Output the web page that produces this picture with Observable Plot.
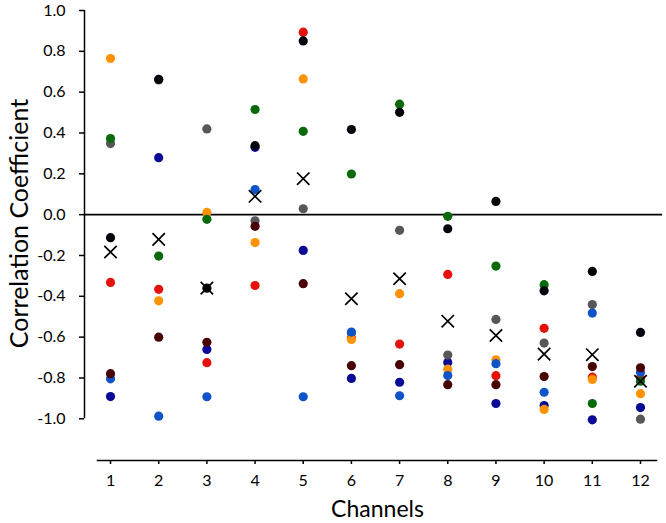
<!DOCTYPE html>
<html>
<head>
<meta charset="utf-8">
<script src="https://cdn.jsdelivr.net/npm/d3@7"></script>
<script src="https://cdn.jsdelivr.net/npm/@observablehq/plot@0.6"></script>
<style>
  html, body { margin: 0; padding: 0; background: #fff; }
  #chart svg { display: block; }
</style>
</head>
<body>
<div id="chart"></div>
<script>
const channels = [1, 2, 3, 4, 5, 6, 7, 8, 9, 10, 11, 12];
const yTicks = [-1.0, -0.8, -0.6, -0.4, -0.2, 0.0, 0.2, 0.4, 0.6, 0.8, 1.0];

// Series (listed in drawing order, bottom to top)
const red    = [-0.332, -0.366, -0.725, -0.347, 0.894, -0.604, -0.634, -0.293, -0.789, -0.557, -0.796, -0.800];
const navy   = [-0.891, 0.279, -0.660, 0.330, -0.175, -0.802, -0.821, -0.724, -0.925, -0.935, -1.005, -0.945];
const gray   = [0.348, 0.660, 0.420, -0.030, 0.029, -0.580, -0.077, -0.688, -0.513, -0.629, -0.440, -1.002];
const orange = [0.765, -0.422, 0.011, -0.137, 0.665, -0.611, -0.387, -0.757, -0.711, -0.954, -0.807, -0.877];
const green  = [0.373, -0.203, -0.023, 0.515, 0.408, 0.199, 0.541, -0.008, -0.252, -0.343, -0.925, -0.816];
const blue   = [-0.804, -0.987, -0.892, 0.123, -0.892, -0.575, -0.887, -0.788, -0.730, -0.870, -0.482, -0.772];
const maroon = [-0.779, -0.600, -0.625, -0.057, -0.338, -0.740, -0.735, -0.833, -0.833, -0.793, -0.744, -0.750];
const black  = [-0.113, 0.663, -0.360, 0.338, 0.851, 0.417, 0.501, -0.069, 0.065, -0.373, -0.278, -0.577];
const mean   = [-0.183, -0.121, -0.360, 0.090, 0.176, -0.412, -0.314, -0.522, -0.592, -0.683, -0.686, -0.816];

const seriesNames  = ["red", "navy", "gray", "orange", "green", "blue", "maroon", "black"];
const seriesValues = [red, navy, gray, orange, green, blue, maroon, black];
const seriesColors = ["#e5120b", "#0a0a96", "#575757", "#ff9200", "#0a690a", "#0f54c6", "#480404", "#04040c"];

const points = [];
seriesNames.forEach((name, i) => {
  seriesValues[i].forEach((v, j) => points.push({series: name, color: seriesColors[i], channel: channels[j], value: v}));
});
const means = mean.map((v, j) => ({channel: channels[j], value: v}));

const xDomain = [0.46, 12.457];
const yDomain = [-1, 1];

const chart = Plot.plot({
  width: 666,
  height: 523,
  marginTop: 10,
  marginLeft: 84,
  marginRight: 4,
  marginBottom: 63,
  style: {fontFamily: "Lato, sans-serif", color: "#000", background: "#fff"},
  x: {type: "linear", domain: xDomain, axis: null},
  y: {domain: yDomain, range: [418.3, 10], axis: null},
  color: {type: "identity"},
  marks: [
    Plot.ruleX([xDomain[0]], {y1: yDomain[0], y2: yDomain[1], stroke: "#000", strokeWidth: 1.5}),
    Plot.axisY(yTicks, {anchor: "left", tickSize: 5, tickPadding: 14, strokeWidth: 1.5,
      tickFormat: d => d.toFixed(1), fontSize: 16, label: null}),
    Plot.ruleY([0], {stroke: "#000", strokeWidth: 1.6}),
    Plot.frame({anchor: "bottom", insetLeft: 13, insetRight: 6, stroke: "#000", strokeWidth: 1.5}),
    Plot.axisX(channels, {anchor: "bottom", tickSize: 4, tickPadding: 10, strokeWidth: 1.5,
      tickFormat: d => String(d), fontSize: 16, label: null}),
    Plot.dot(points, {x: "channel", y: "value", fill: "color", r: 4.6}),
    Plot.dot(means, {x: "channel", y: "value", symbol: "times", r: 5.7, stroke: "#000", strokeWidth: 1.7}),
    Plot.text(["Correlation Coefficient"], {frameAnchor: "left", textAnchor: "middle", lineAnchor: "middle",
      rotate: -90, dx: -65, dy: -12, fontSize: 25, fill: "#000"}),
    Plot.text(["Channels"], {frameAnchor: "bottom", textAnchor: "middle", lineAnchor: "middle",
      dx: 4, dy: 49, fontSize: 23, fill: "#000"})
  ]
});
document.getElementById("chart").appendChild(chart);
</script>
</body>
</html>
